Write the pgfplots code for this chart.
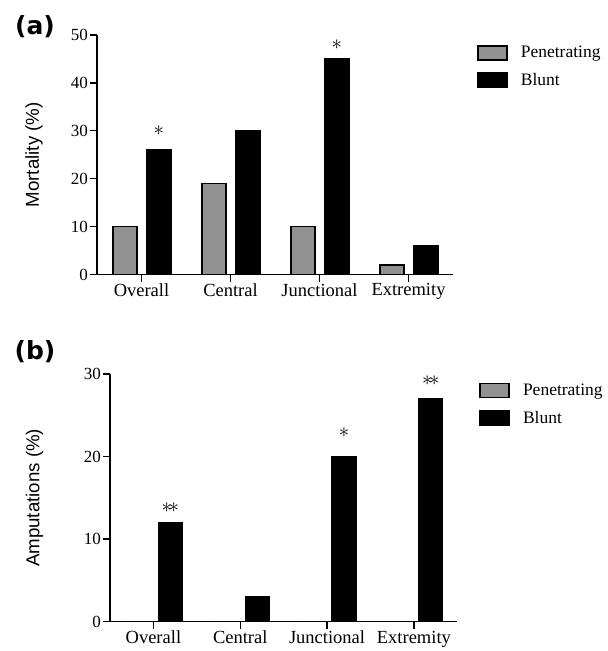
\documentclass[border=0pt]{standalone}
\usepackage{fontspec}
\setmainfont{Liberation Serif}
\newfontfamily\labelfont{Liberation Sans}
\newfontfamily\panelfont{DejaVu Sans}
\usepackage{pgfplots}
\pgfplotsset{compat=1.18}
\definecolor{pen}{RGB}{145,145,145}
\tikzset{sigstar/.style={font=\fontsize{19bp}{21bp}\selectfont}}
\pgfplotsset{
  mybar/.style={
    scale only axis,
    axis x line*=bottom, axis y line*=left,
    axis line style={line width=1.3bp, black},
    every tick/.style={line width=1.3bp, black},
    major tick length=7bp,
    tick align=outside,
    xmin=-0.5, xmax=3.5, ymin=0,
    xtick={0,1,2,3},
    xticklabels={Overall,Central,Junctional,Extremity},
    x tick label style={font=\fontsize{18.5bp}{20bp}\selectfont, inner sep=2bp},
    y tick label style={font=\fontsize{17bp}{19bp}\selectfont, inner sep=2bp},
    /pgf/number format/assume math mode=true,
    ylabel style={font=\labelfont\fontsize{18.7bp}{20bp}\selectfont, anchor=center},
    ybar, bar width=0.27,
    legend image code/.code={\draw[##1, line width=1.6bp] (0bp,-7bp) rectangle (29bp,7bp);
      \path[draw=none, fill=none] (0bp,0bp) -- (41bp,0bp);},
    legend style={draw=none, fill=none, inner sep=0pt, anchor=north west,
      font=\fontsize{17.5bp}{19bp}\selectfont, cells={anchor=west}, row sep=10bp},
  },
  penbar/.style={fill=pen, draw=black, line width=1.6bp, bar shift=-0.185},
  bluntbar/.style={fill=black, draw=black, line width=1.6bp, bar shift=0.195},
}
\begin{document}
\begin{tikzpicture}
\path[use as bounding box] (0,0) rectangle (608bp,-651bp);
\node[font=\panelfont\bfseries\fontsize{25bp}{27bp}\selectfont] at (35bp,-27bp) {(a)};
\node[font=\panelfont\bfseries\fontsize{25bp}{27bp}\selectfont] at (35bp,-352bp) {(b)};

\begin{axis}[mybar,
  at={(97bp,-274.5bp)}, anchor=south west,
  width=356bp, height=239.5bp,
  ymax=50, ytick={0,10,20,30,40,50},
  ylabel={Mortality (\%)},
  ylabel style={at={(axis description cs:-0.177,0.5)}},
  legend style={at={(axis description cs:1.067,0.962)}},
]
\addplot[penbar] coordinates {(0,10) (1,19) (2,10) (3,2)};
\addplot[bluntbar] coordinates {(0,26) (1,30) (2,45) (3,6)};
\legend{Penetrating,Blunt}
\node[sigstar] at (axis cs:0.195,30) {$\ast$};
\node[sigstar] at (axis cs:2.195,48) {$\ast$};
\end{axis}

\begin{axis}[mybar,
  at={(110bp,-621.7bp)}, anchor=south west,
  width=347.3bp, height=247.7bp,
  ymax=30, ytick={0,10,20,30},
  ylabel={Amputations (\%)},
  ylabel style={at={(axis description cs:-0.217,0.5)}},
  legend style={at={(axis description cs:1.0625,0.969)}},
]
\addplot[penbar] coordinates {(0,0) (1,0) (2,0) (3,0)};
\addplot[bluntbar] coordinates {(0,12) (1,3) (2,20) (3,27)};
\legend{Penetrating,Blunt}
\node[sigstar] at (axis cs:0.195,13.8) {$\ast\!\ast$};
\node[sigstar] at (axis cs:2.195,22.9) {$\ast$};
\node[sigstar] at (axis cs:3.195,29.2) {$\ast\!\ast$};
\end{axis}
\end{tikzpicture}
\end{document}
